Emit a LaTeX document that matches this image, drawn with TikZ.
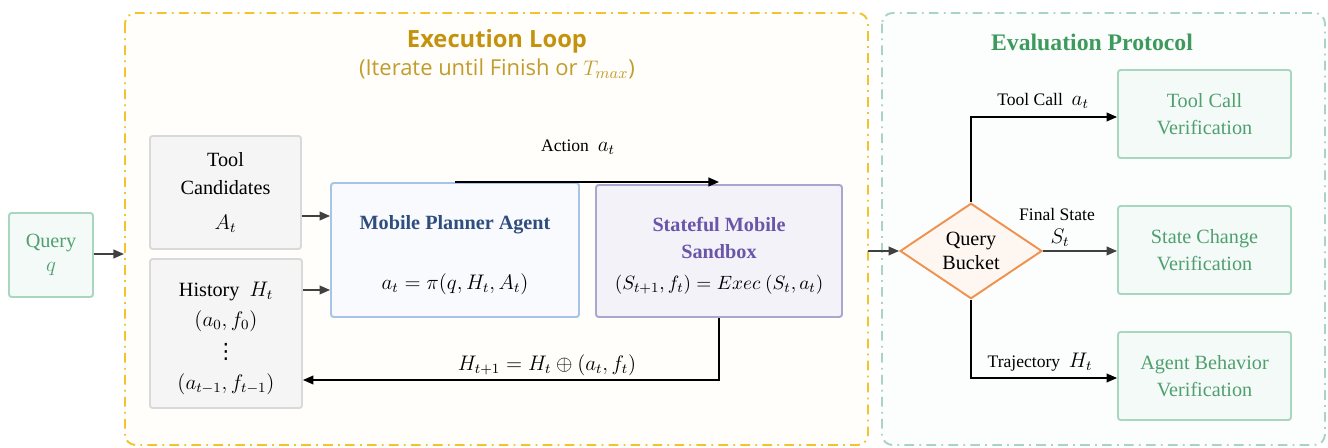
\documentclass[tikz,border=0pt]{standalone}
\usepackage{amsmath}
\usepackage{fontspec}
\setmainfont{Liberation Serif}
\newfontfamily\loopfont{Open Sans}
\newfontfamily\dotsfont{DejaVu Sans}
\usetikzlibrary{shapes.geometric,arrows.meta}
\definecolor{loopgold}{HTML}{F3C32C}
\definecolor{looptitle}{HTML}{C4930E}
\definecolor{loopsub}{HTML}{C29C2C}
\definecolor{loopfill}{HTML}{FFFEFA}
\definecolor{evalline}{HTML}{A9D3C3}
\definecolor{evalfill}{HTML}{FCFEFD}
\definecolor{evaltitle}{HTML}{3E9A5C}
\definecolor{greentext}{HTML}{4F9F6F}
\definecolor{greenline}{HTML}{A9D6BE}
\definecolor{greenfill}{HTML}{F4FAF8}
\definecolor{boxgray}{HTML}{D9D9D9}
\definecolor{boxfill}{HTML}{F5F5F5}
\definecolor{planline}{HTML}{A7C3E6}
\definecolor{planfill}{HTML}{F8FAFD}
\definecolor{plantitle}{HTML}{2F4E7D}
\definecolor{sandline}{HTML}{ABA6D0}
\definecolor{sandfill}{HTML}{F3F2F8}
\definecolor{sandtitle}{HTML}{6B55A8}
\definecolor{bucketline}{HTML}{F0924F}
\definecolor{bucketfill}{HTML}{FEF7F1}
\definecolor{arrgray}{HTML}{404040}
\begin{document}
\begin{tikzpicture}[x=0.02cm,y=-0.02cm,
  box/.style={draw,line width=1.1pt,rounded corners=1.5pt,align=center,inner sep=1pt},
  graybox/.style={box,draw=boxgray,fill=boxfill,font=\fontsize{11.5}{16}\selectfont},
  greenbox/.style={box,draw=greenline,fill=greenfill,text=greentext,font=\fontsize{11.5}{15}\selectfont},
  frame/.style={line width=1.1pt,rounded corners=6pt,dash pattern=on 5.5pt off 3pt on 1pt off 3pt},
  lbl/.style={font=\fontsize{10}{12}\selectfont,inner sep=1pt},
  histtxt/.style={font=\fontsize{11.5}{14}\selectfont,inner sep=0pt},
  conn/.style={draw=arrgray,line width=0.9pt,-{Triangle[length=6pt,width=5pt]}},
  flow/.style={draw=black,line width=0.9pt,-{Triangle[length=6pt,width=5pt]}}]
\useasboundingbox (0,0) rectangle (1328,448);
\draw[frame,draw=loopgold,fill=loopfill] (125,13) rectangle (868,445);
\draw[frame,draw=evalline,fill=evalfill] (882,13) rectangle (1325,445);
\node[font=\loopfont\bfseries\fontsize{13.5}{16}\selectfont,text=looptitle] (looptitle) at (497,41) {Execution Loop};
\node[font=\loopfont\fontsize{12.5}{15}\selectfont,text=loopsub] (loopsub) at (497,69) {(Iterate until Finish or $T_{max}$)};
\node[font=\bfseries\fontsize{13.5}{16}\selectfont,text=evaltitle] (evaltitle) at (1092,42) {Evaluation Protocol};
\node[greenbox,minimum width=1.68cm,minimum height=1.68cm] (query) at (51,255) {Query\\[-1pt]{\large$q$}};
\node[graybox,minimum width=3.02cm,minimum height=2.26cm] (toolcand) at (225.5,192.5) {Tool\\Candidates\\[4pt]{\large$A_t$}};
\node[graybox,minimum width=3.04cm,minimum height=2.98cm] (history) at (226,333.5) {};
\node[histtxt] (histhead) at (226,291) {History~~{\large$H_t$}};
\node[histtxt] (histfirst) at (226,321) {\large$(a_0,f_0)$};
\node[histtxt,font=\dotsfont\fontsize{12}{14}\selectfont] (histdots) at (226,352) {⋮};
\node[histtxt] (histlast) at (226,384) {\large$(a_{t-1},f_{t-1})$};
\node[box,draw=planline,fill=planfill,minimum width=4.96cm,minimum height=2.68cm] (planner) at (455,250) {};
\node[font=\bfseries\fontsize{11.5}{14}\selectfont,text=plantitle] (plannertitle) at (455,225) {Mobile Planner Agent};
\node[font=\fontsize{11.5}{14}\selectfont] (policy) at (455,284) {\large$a_t=\pi(q,H_t,A_t)$};
\node[box,draw=sandline,fill=sandfill,minimum width=4.92cm,minimum height=2.64cm] (sandbox) at (719,251) {};
\node[font=\bfseries\fontsize{11.5}{15}\selectfont,text=sandtitle,align=center] (sandboxtitle) at (719,238) {Stateful Mobile\\Sandbox};
\node[font=\fontsize{11}{14}\selectfont] (exec) at (719,285) {$(S_{t+1},f_t)=Exec\ (S_t,a_t)$};
\node[diamond,draw=bucketline,fill=bucketfill,line width=1.1pt,inner sep=0pt,minimum width=2.84cm,minimum height=1.84cm,align=center,font=\fontsize{11.5}{14}\selectfont] (bucket) at (971,251) {Query\\Bucket};
\node[greenbox,minimum width=3.46cm,minimum height=1.76cm] (toolver) at (1204.5,114) {Tool Call\\Verification};
\node[greenbox,minimum width=3.46cm,minimum height=1.76cm] (statever) at (1204.5,250) {State Change\\Verification};
\node[greenbox,minimum width=3.46cm,minimum height=1.76cm] (agentver) at (1204.5,376) {Agent Behavior\\Verification};
\coordinate (loopin) at (124,254);
\coordinate (loopout) at (868,251);
\coordinate (actstart) at (455,182);
\draw[conn] (query.east |- loopin) -- (loopin);
\draw[conn] (toolcand.east |- 0,216) -- (planner.west |- 0,216);
\draw[conn] (history.east |- 0,290) -- (planner.west |- 0,290);
\draw[flow] (actstart) -- (actstart -| sandbox.north);
\node[lbl] (actlbl) at (578,147) {Action~~{\large$a_t$}};
\draw[flow] (sandbox.south) |- (history.east |- 0,380);
\node[lbl] (updlbl) at (547,365) {\large$H_{t+1}=H_t\oplus(a_t,f_t)$};
\draw[conn] (loopout) -- (bucket.west);
\draw[flow] (bucket.north) |- (toolver.west |- 0,117);
\node[lbl] (calllbl) at (1043,101) {Tool Call~~{\large$a_t$}};
\draw[conn] (bucket.east) -- (statever.west |- bucket.east);
\node[lbl] (finallbl) at (1057,214) {Final State};
\node[lbl] (statelbl) at (1060,238) {\large$S_t$};
\draw[flow] (bucket.south) |- (agentver.west |- 0,378);
\node[lbl] (trajlbl) at (1040,362) {Trajectory~~{\large$H_t$}};
\end{tikzpicture}
\end{document}
